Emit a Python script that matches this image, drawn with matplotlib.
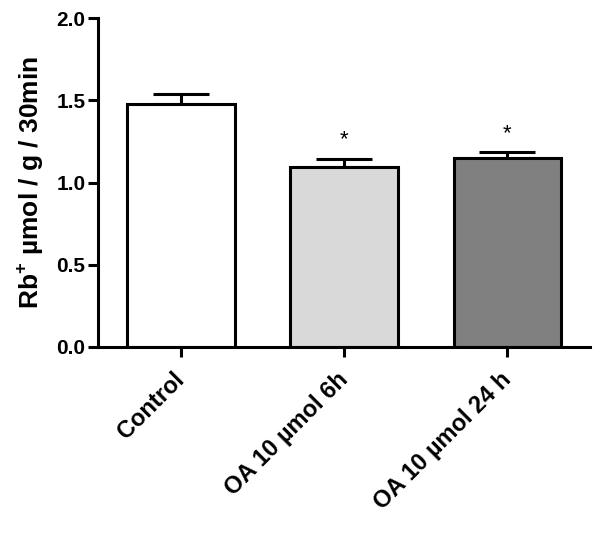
import numpy as np
import matplotlib
matplotlib.use('Agg')
import matplotlib.pyplot as plt

# data
GROUPS = ['Control', 'OA 10 µmol 6h', 'OA 10 µmol 24 h']
MEANS = [1.477, 1.096, 1.149]
ERRS = [0.061, 0.049, 0.036]
SIGNIF = ['', '*', '*']
COLORS = ['#ffffff', '#d9d9d9', '#808080']

plt.rcParams['font.family'] = ['Liberation Sans', 'DejaVu Sans']
plt.rcParams['mathtext.fontset'] = 'custom'
plt.rcParams['mathtext.bf'] = 'Liberation Sans:bold'
plt.rcParams['mathtext.rm'] = 'Liberation Sans:bold'

fig = plt.figure(figsize=(6.0, 5.33), dpi=100)
ax = fig.add_axes([0.163, 0.349, 0.82, 0.617])

xpos = np.arange(len(GROUPS))
# error bars first so the bars cover the lower caps
ax.errorbar(xpos, MEANS, yerr=[np.zeros(len(ERRS)), ERRS], fmt='none',
            ecolor='black', elinewidth=2.2, capsize=20, capthick=2.2,
            zorder=1)
ax.bar(xpos, MEANS, width=0.66, color=COLORS, edgecolor='black',
       linewidth=2.2, zorder=2)
for x, m, e, s in zip(xpos, MEANS, ERRS, SIGNIF):
    if s:
        ax.text(x, m + e + 0.05, s, ha='center', va='bottom',
                fontsize=16, color='black')

ax.set_xlim(-0.51, 2.505)
ax.set_ylim(0, 2.0)
ax.set_yticks([0.0, 0.5, 1.0, 1.5, 2.0])
ax.set_yticklabels(['0.0', '0.5', '1.0', '1.5', '2.0'],
                   fontsize=15, fontweight='bold')
ax.set_xticks(xpos)
ax.set_xticklabels(GROUPS, fontsize=17, fontweight='bold', rotation=45,
                   ha='right', va='center', rotation_mode='anchor')
ax.set_ylabel(r'Rb$^{+}$ µmol / g / 30min', fontsize=19, fontweight='bold')
ax.yaxis.set_label_coords(-0.108, 0.5)

for side in ['top', 'right']:
    ax.spines[side].set_visible(False)
for side in ['left', 'bottom']:
    ax.spines[side].set_linewidth(2.2)
ax.tick_params(axis='both', width=2.2, length=7, direction='out', pad=2)
ax.tick_params(axis='x', pad=14)

fig.savefig('out.png', dpi=100)
